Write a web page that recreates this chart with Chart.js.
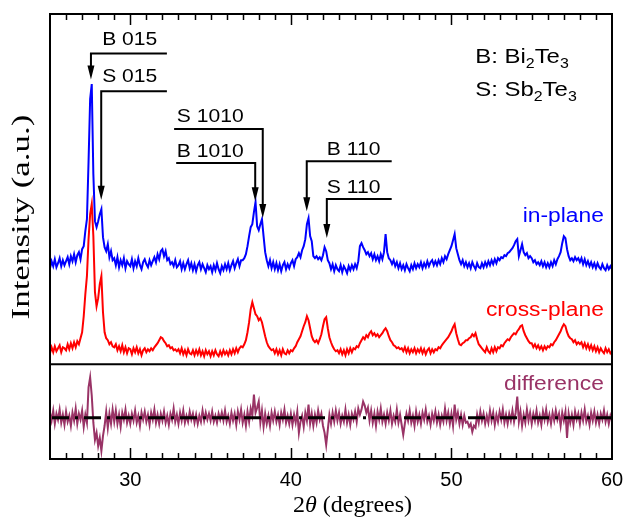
<!DOCTYPE html>
<html>
<head>
<meta charset="utf-8">
<script src="https://cdn.jsdelivr.net/npm/chart.js@4.4.0/dist/chart.umd.min.js"></script>
<style>
html, body { margin: 0; padding: 0; background: #fff; }
#wrap { width: 627px; height: 519px; }
</style>
</head>
<body>
<div id="wrap"><canvas id="xrd" width="627" height="519"></canvas></div>
<script>
// scan: 2theta from 25 to 60 deg in 0.1 deg steps
const scanStart = 25
const scanStep = 0.1
const xTickValues = [30, 40, 50, 60]
const zeroLevel = 0

// intensities in arbitrary units
const inPlane = [
    96,103,98,105,97,101,106,98,104,99,
    103,107,100,108,103,110,102,109,112,105,
    115,118,133,145,202,265,280,190,143,137,
    143,150,155,127,117,113,120,107,113,104,
    106,99,107,97,104,99,106,96,103,100,
    98,105,96,103,98,106,99,95,102,105,
    100,97,104,99,103,107,102,110,105,113,
    115,108,113,104,106,100,102,98,104,97,
    99,103,95,101,95,100,104,96,101,94,
    100,93,99,102,95,100,96,92,99,95,
    98,92,99,94,101,95,91,98,94,100,
    95,101,94,99,103,96,101,105,98,104,
    104,106,110,118,128,137,140,152,162,138,
    134,140,145,128,112,104,98,104,96,102,
    95,101,94,100,93,99,102,95,100,96,
    101,104,98,105,107,111,107,114,118,125,
    140,146,128,123,108,106,108,105,107,104,
    109,117,113,104,101,95,100,93,99,95,
    93,99,92,98,95,91,98,94,99,95,
    100,96,103,118,121,117,114,110,112,108,
    111,105,110,104,108,103,110,105,112,130,
    112,106,104,100,104,98,102,96,101,95,
    99,94,100,96,93,99,95,101,96,100,
    97,102,96,101,97,103,98,102,104,99,
    103,99,104,100,106,102,108,105,110,114,
    118,124,130,116,110,104,100,104,98,102,
    97,101,96,102,98,95,101,97,96,101,
    97,102,98,103,99,104,100,105,101,106,
    104,107,106,109,108,111,112,114,116,119,
    123,125,108,114,120,112,109,111,106,108,
    106,102,104,100,102,99,103,98,102,97,
    101,97,102,98,104,100,105,108,112,121,
    128,126,115,108,104,106,103,107,104,106,
    102,106,100,105,99,103,98,102,97,101,
    96,101,97,95,100,96,94,99,95,98,95
]

const crossPlane = [
    11,17,12,18,13,16,19,12,17,16,
    14,20,15,21,16,22,17,23,20,26,
    32,48,70,88,125,150,160,128,72,58,
    66,80,88,52,32,26,24,20,22,18,
    17,20,14,18,13,19,12,17,11,16,
    15,10,16,12,17,11,15,9,14,16,
    12,15,13,16,14,17,19,21,24,27,
    26,23,21,18,19,16,17,14,15,13,
    15,11,16,10,14,9,15,11,10,14,
    9,14,10,15,9,13,8,14,10,13,
    8,13,9,14,10,8,13,9,14,10,
    13,9,14,10,15,11,16,12,16,18,
    17,20,24,32,42,55,62,56,50,48,
    44,46,42,35,28,22,18,16,14,15,
    11,15,10,14,9,15,11,10,14,11,
    14,13,16,18,22,25,28,33,38,42,
    48,44,36,28,24,22,24,21,25,30,
    38,45,47,36,27,22,18,15,13,14,
    11,15,10,14,9,15,11,16,12,16,
    15,18,17,21,24,27,25,29,27,31,
    33,29,31,28,30,27,29,31,34,36,
    33,28,24,22,19,18,16,17,15,16,
    13,17,12,16,11,15,12,16,11,15,
    12,16,11,15,10,14,16,11,15,12,
    15,14,17,16,19,21,23,25,27,30,
    33,37,40,31,25,20,19,21,22,24,
    24,26,27,30,28,31,25,20,18,16,
    14,12,17,13,11,16,12,17,13,17,
    16,19,18,21,23,25,24,27,29,31,
    30,33,35,38,39,33,29,26,23,21,
    21,17,20,16,19,15,18,14,18,15,
    18,17,20,19,22,24,27,30,33,37,
    40,38,32,28,26,25,22,24,20,22,
    20,22,17,21,16,20,15,19,14,18,
    13,17,12,16,13,11,16,12,15,11,13
]

const difference = [
    5,-3,7,-6,4,-2,8,-5,3,-7,
    6,-4,2,-8,5,-3,9,-6,4,-2,
    7,-9,3,-5,30,40,22,-5,-22,-15,
    -28,-20,-33,-18,-8,6,-10,4,-6,8,
    -4,7,-6,3,-9,5,-2,8,-5,2,
    -6,4,-3,7,-5,2,-8,5,-2,6,
    -4,3,-7,5,-2,8,-5,3,-6,4,
    -3,6,-5,2,-7,4,-2,9,-4,3,
    -6,5,-3,7,-5,2,-4,6,-2,4,
    -5,3,-6,2,-4,7,-3,5,-2,4,
    -3,6,-4,2,-5,4,-2,5,-3,7,
    -4,2,-6,5,-3,4,-7,6,-2,8,
    -5,3,-8,6,-4,9,2,23,5,10,
    16,-5,7,-9,4,-6,2,-8,5,-3,
    6,-4,3,-7,5,-2,8,-5,2,-6,
    4,-7,3,-5,6,-15,-4,2,-9,5,
    -3,13,-6,4,-8,3,-5,7,-2,4,
    -8,-15,-27,-12,3,-6,5,-4,7,-3,
    5,-6,2,-4,8,-5,3,-7,4,-2,
    6,-4,9,3,8,16,12,5,10,-3,
    7,-5,4,-8,6,-2,9,-4,3,-6,
    5,-3,7,-6,2,-4,8,-5,3,-7,
    -17,-6,4,-3,7,-5,2,-8,6,-4,
    3,-6,5,-2,8,-4,2,-7,4,-3,
    6,-5,3,-7,2,-4,9,-3,5,-6,
    4,-8,13,-2,5,-6,3,-7,2,-5,
    -4,-9,-6,-14,-8,-10,3,-5,6,-3,
    4,-6,2,-5,7,-3,5,-7,3,-4,
    6,-2,8,-5,3,-6,4,-3,7,-4,
    5,21,-4,6,-8,3,-5,8,-3,5,
    -6,4,-3,7,-5,2,-7,6,-2,8,
    -4,3,-6,5,-3,7,-2,4,-8,5,
    -3,6,-20,4,-5,3,-7,6,-2,4,
    -6,5,-3,8,-4,2,-7,5,-3,6,
    -5,3,-6,4,-2,7,-4,3,-6,2,-3
]

// reflection markers: x in degrees, y in intensity units of the upper panel
const peakLabels = [
    { text: 'B 015',  textX: 28.25, textY: 319, lineY: 310.5, arrowX: 27.55, endX: 32.28, tipY: 284.5 },
    { text: 'S 015',  textX: 28.25, textY: 282, lineY: 272.8, arrowX: 28.19, endX: 32.28, tipY: 164.5 },
    { text: 'S 1010', textX: 32.9,  textY: 242, lineY: 235.2, arrowX: 38.25, endX: 32.73, tipY: 146.2 },
    { text: 'B 1010', textX: 32.9,  textY: 207, lineY: 201.2, arrowX: 37.78, endX: 32.86, tipY: 162.8 },
    { text: 'B 110',  textX: 42.24, textY: 209.5, lineY: 202.8, arrowX: 40.99, endX: 46.28, tipY: 152.8 },
    { text: 'S 110',  textX: 42.24, textY: 171, lineY: 165.2, arrowX: 42.24, endX: 46.28, tipY: 126.2 }
]

const BLUE = '#0000ff'
const RED = '#ff0000'
const PURPLE = '#993366'
const SANS = 'Liberation Sans, Arial, sans-serif'
const SERIF = 'Liberation Serif, Times New Roman, serif'
const textStretch = 1.14

function toPoints(values) {
    return values.map((v, i) => ({ x: scanStart + i * scanStep, y: v }))
}

function stretchedText(ctx, text, x, y, font, color, align) {
    ctx.save()
    ctx.translate(x, y)
    ctx.scale(textStretch, 1)
    ctx.font = font
    ctx.fillStyle = color
    ctx.textAlign = align || 'left'
    ctx.textBaseline = 'alphabetic'
    ctx.fillText(text, 0, 0)
    ctx.restore()
}

// text made of runs, e.g. Bi2Te3 with subscript digits
function formulaText(ctx, runs, x, y) {
    let cx = x
    runs.forEach(([t, sub]) => {
        const font = (sub ? '14px ' : '21px ') + SANS
        stretchedText(ctx, t, cx, sub ? y + 5 : y, font, '#000')
        ctx.font = font
        cx += ctx.measureText(t).width * textStretch
    })
}

const framePlugin = {
    id: 'xrdFrame',
    afterDatasetsDraw(chart) {
        // dash-dot zero reference over the difference curve
        const { ctx, chartArea: a, scales } = chart
        const zy = scales.yDiff.getPixelForValue(zeroLevel)
        ctx.save()
        ctx.strokeStyle = '#000'
        ctx.lineWidth = 3
        ctx.setLineDash([17, 6, 3, 6])
        ctx.beginPath()
        ctx.moveTo(a.left + 2, zy)
        ctx.lineTo(a.right, zy)
        ctx.stroke()
        ctx.restore()
    },
    afterDraw(chart) {
        const { ctx, chartArea: a, scales } = chart
        const x = scales.x
        const top = scales.yTop
        const diff = scales.yDiff
        ctx.save()
        ctx.strokeStyle = '#000'
        ctx.fillStyle = '#000'
        ctx.lineWidth = 2
        ctx.strokeRect(a.left, a.top, a.right - a.left, a.bottom - a.top)
        ctx.beginPath()
        ctx.moveTo(a.left, top.bottom)
        ctx.lineTo(a.right, top.bottom)
        ctx.stroke()

        // inward ticks on top and bottom edges
        ctx.lineWidth = 1.5
        for (let d = 26; d < 60; d++) {
            const px = Math.round(x.getPixelForValue(d)) + 0.5
            const len = d % 10 === 0 ? 11 : 6
            ctx.beginPath()
            ctx.moveTo(px, a.top)
            ctx.lineTo(px, a.top + len)
            ctx.moveTo(px, a.bottom)
            ctx.lineTo(px, a.bottom - len)
            ctx.stroke()
        }

        // reflection markers
        peakLabels.forEach(p => {
            const ax = x.getPixelForValue(p.arrowX)
            const ex = x.getPixelForValue(p.endX)
            const ly = top.getPixelForValue(p.lineY)
            const ty = top.getPixelForValue(p.tipY)
            ctx.lineWidth = 2
            ctx.beginPath()
            ctx.moveTo(ex, ly)
            ctx.lineTo(ax, ly)
            ctx.lineTo(ax, ty - 12)
            ctx.stroke()
            ctx.beginPath()
            ctx.moveTo(ax - 3.5, ty - 14)
            ctx.lineTo(ax + 3.5, ty - 14)
            ctx.lineTo(ax, ty)
            ctx.closePath()
            ctx.fill()
            stretchedText(ctx, p.text, x.getPixelForValue(p.textX), top.getPixelForValue(p.textY), '18.5px ' + SANS, '#000')
        })

        // phase key
        formulaText(ctx, [['B: Bi'], ['2', true], ['Te'], ['3', true]], x.getPixelForValue(51.48), top.getPixelForValue(301))
        formulaText(ctx, [['S: Sb'], ['2', true], ['Te'], ['3', true]], x.getPixelForValue(51.48), top.getPixelForValue(268))

        // series names
        const labelX = x.getPixelForValue(59.49)
        stretchedText(ctx, 'in-plane', labelX, top.getPixelForValue(142.5), '20px ' + SANS, BLUE, 'right')
        stretchedText(ctx, 'cross-plane', labelX, top.getPixelForValue(47.8), '20px ' + SANS, RED, 'right')
        stretchedText(ctx, 'difference', labelX, diff.getPixelForValue(27), '20px ' + SANS, PURPLE, 'right')

        // axis titles
        ctx.save()
        ctx.translate(29, 217)
        ctx.rotate(-Math.PI / 2)
        ctx.font = '25px ' + SERIF
        const yTitle = 'Intensity (a.u.)'
        ctx.scale(205 / ctx.measureText(yTitle).width, 1)
        ctx.textAlign = 'center'
        ctx.fillText(yTitle, 0, 0)
        ctx.restore()

        ctx.save()
        const runs = [['2', ''], ['\u03b8', 'italic '], [' (degrees)', '']]
        let w = 0
        runs.forEach(([t, st]) => { ctx.font = st + '23px ' + SERIF; w += ctx.measureText(t).width })
        ctx.translate(293, 512)
        ctx.scale(119 / w, 1)
        let cx = 0
        runs.forEach(([t, st]) => {
            ctx.font = st + '23px ' + SERIF
            ctx.fillText(t, cx, 0)
            cx += ctx.measureText(t).width
        })
        ctx.restore()
        ctx.restore()
    }
}

const hiddenY = {
    type: 'linear',
    position: 'left',
    stack: 'xrd',
    ticks: { display: false },
    grid: { display: false, drawTicks: false },
    border: { display: false }
}

new Chart(document.getElementById('xrd'), {
    type: 'line',
    data: {
        datasets: [
            { label: 'cross-plane', data: toPoints(crossPlane), yAxisID: 'yTop', borderColor: RED, order: 1 },
            { label: 'in-plane', data: toPoints(inPlane), yAxisID: 'yTop', borderColor: BLUE, order: 2 },
            { label: 'difference', data: toPoints(difference), yAxisID: 'yDiff', borderColor: PURPLE, order: 3 }
        ]
    },
    plugins: [framePlugin],
    options: {
        responsive: false,
        animation: false,
        devicePixelRatio: 1,
        layout: { padding: { left: 50, right: 15, top: 14, bottom: 18 } },
        elements: {
            point: { radius: 0 },
            line: { borderWidth: 2, tension: 0, fill: false }
        },
        plugins: {
            legend: { display: false },
            tooltip: { enabled: false }
        },
        scales: {
            x: {
                type: 'linear',
                min: 25,
                max: 60,
                grid: { display: false, drawTicks: false },
                border: { display: false },
                afterBuildTicks: scale => { scale.ticks = xTickValues.map(v => ({ value: v })) },
                // the "60" label fits inside the right margin, so no extra side padding
                afterFit: scale => { scale.paddingLeft = 0; scale.paddingRight = 0 },
                ticks: { color: '#000', padding: 9, maxRotation: 0, font: { family: SANS, size: 20 } }
            },
            yTop: Object.assign({}, hiddenY, { min: 0, max: 350, stackWeight: 350.5, weight: 2 }),
            yDiff: Object.assign({}, hiddenY, { min: -41, max: 53, stackWeight: 94.8, weight: 1 })
        }
    }
})
</script>
</body>
</html>
